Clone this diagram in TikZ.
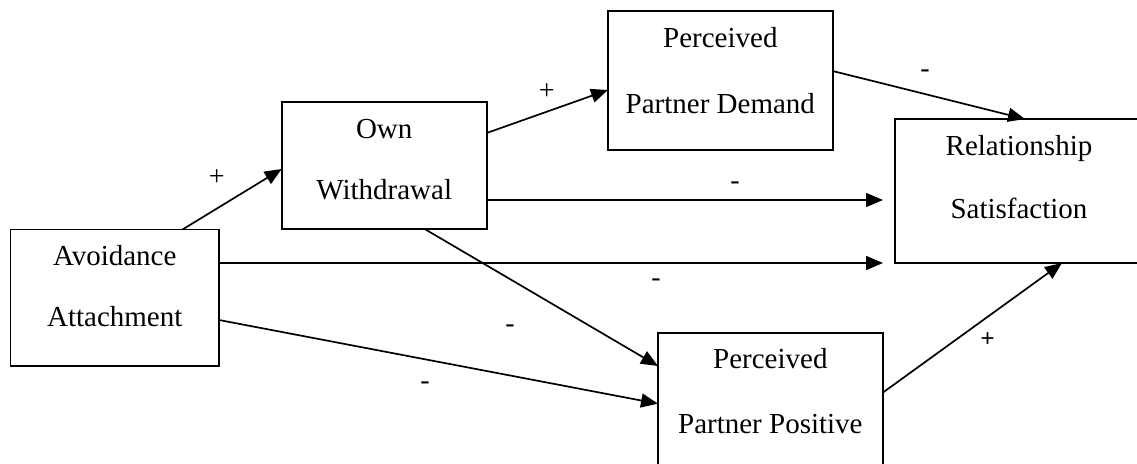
\documentclass[tikz,border=0pt]{standalone}
\usepackage{fontspec}
\setmainfont{Liberation Serif}
\newfontfamily\arialfont{Liberation Sans}
\usetikzlibrary{arrows.meta,calc}
\tikzset{
  box/.style={draw=black, line width=1.8pt, rectangle, inner sep=0pt, outer sep=0pt, anchor=north west},
  txt/.style={anchor=base, inner sep=0pt, font=\fontsize{29}{34}\selectfont},
  sign/.style={inner sep=0pt, font=\fontsize{28}{34}\selectfont},
  arr/.style={line width=1.7pt, -{Triangle[length=17pt,width=14pt]}},
}
\begin{document}
\begin{tikzpicture}[x=1pt,y=-1pt]
\clip (0,0) rectangle (1137,463);
\fill[white] (0,0) rectangle (1137,463);
% boxes
\node[box, minimum width=208.5pt, minimum height=136.5pt] (avoid) at (10.5,229.5) {};
\node[box, minimum width=205pt, minimum height=127pt] (own) at (281.7,102) {};
\node[box, minimum width=224.7pt, minimum height=139pt] (dem) at (608,11) {};
\node[box, minimum width=248pt, minimum height=144pt] (rel) at (895,119) {};
\node[box, minimum width=224.7pt, minimum height=140pt] (pos) at (658,332.7) {};
% texts
\node[txt] (avoid1) at ($(avoid.north)+(0,36)$) {Avoidance};
\node[txt] (avoid2) at ($(avoid.north)+(0,97)$) {Attachment};
\node[txt] (own1) at ($(own.north)+(0,36)$) {Own};
\node[txt] (own2) at ($(own.north)+(0,97)$) {Withdrawal};
\node[txt] (dem1) at ($(dem.north)+(0,36)$) {Perceived};
\node[txt] (dem2) at ($(dem.north)+(0,102)$) {Partner Demand};
\node[txt] (rel1) at ($(rel.north)+(0,36)$) {Relationship};
\node[txt] (rel2) at ($(rel.north)+(0,99)$) {Satisfaction};
\node[txt] (pos1) at ($(pos.north)+(0,36)$) {Perceived};
\node[txt] (pos2) at ($(pos.north)+(0,101)$) {Partner Positive};
% arrows
\draw[arr] ($(avoid.north west)+(172,0)$) -- ($(own.north west)+(0,67)$);
\draw[arr] ($(own.north east)+(0,31)$) -- ($(dem.north west)+(0,79)$);
\draw[arr] ($(dem.north east)+(0,60)$) -- ($(rel.north west)+(130,0)$);
\draw[arr] ($(own.north east)+(0,98)$) -- ($(rel.north west)+(-12,81)$);
\draw[arr] ($(avoid.north east)+(0,33.5)$) -- ($(rel.south west)+(-12,0)$);
\draw[arr] ($(own.south west)+(143,0)$) -- ($(pos.north west)+(0,33.3)$);
\draw[arr] ($(avoid.north east)+(0,90.5)$) -- ($(pos.north west)+(0,71)$);
\draw[arr] ($(pos.north east)+(0,60)$) -- ($(rel.south west)+(167,0)$);
% signs
\node[sign] (s1) at (216.7,178) {+};
\node[sign] (s2) at (546.7,91.7) {+};
\node[sign, font=\fontsize{24}{30}\arialfont] (s3) at (987.7,340) {+};
\node[sign] (m1) at (925,73.5) {-};
\node[sign] (m2) at (735,185.5) {-};
\node[sign] (m3) at (656,282.5) {-};
\node[sign] (m4) at (510,329) {-};
\node[sign] (m5) at (425,385.5) {-};
\end{tikzpicture}
\end{document}
